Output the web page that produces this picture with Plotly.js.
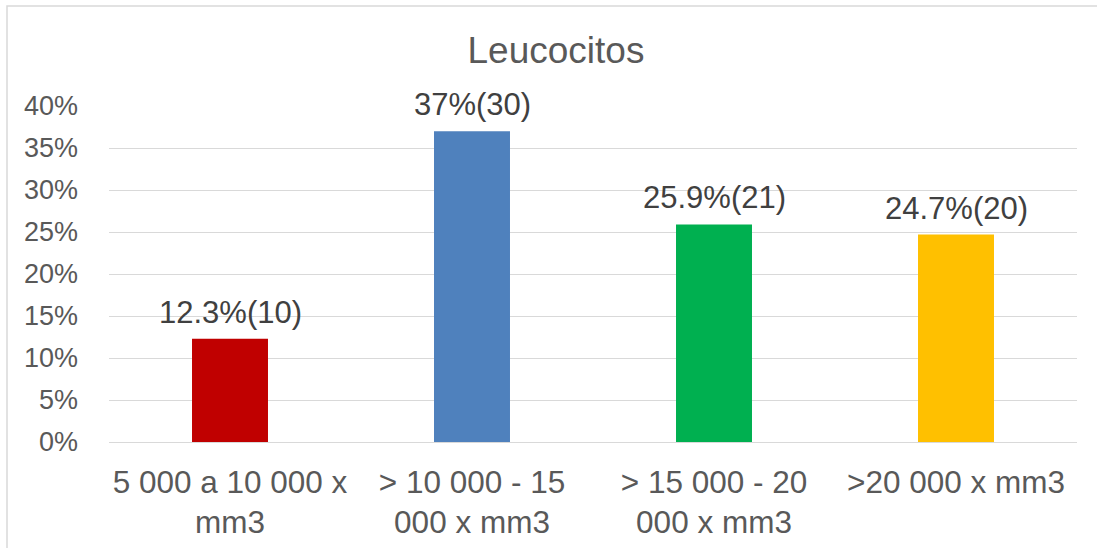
<!DOCTYPE html>
<html>
<head>
<meta charset="utf-8">
<script src="https://cdn.plot.ly/plotly-3.0.1.min.js"></script>
<style>
  html, body { margin: 0; padding: 0; background: #ffffff; }
  #chart { width: 1097px; height: 548px; }
</style>
</head>
<body>
<div id="chart"></div>
<script>
// Leucocyte count ranges and share of patients
const categories = [
  '5 000 a 10 000 x<br>mm3',
  '> 10 000 - 15<br>000 x mm3',
  '> 15 000 - 20<br>000 x mm3',
  '>20 000 x mm3'
];
const percentages = [12.3, 37, 25.9, 24.7];
const counts = [10, 30, 21, 20];
const barColors = ['#C00000', '#4F81BD', '#00B050', '#FFC000'];
const yTickValues = [0, 5, 10, 15, 20, 25, 30, 35, 40];

const labelTexts = percentages.map((p, i) => p + '%(' + counts[i] + ')');

const fontFamily = '"Liberation Sans", Arial, sans-serif';

const trace = {
  type: 'bar',
  x: categories,
  y: percentages,
  marker: { color: barColors },
  hoverinfo: 'skip'
};

const annotations = categories.map((c, i) => ({
  x: c,
  y: percentages[i],
  xref: 'x',
  yref: 'y',
  text: labelTexts[i],
  showarrow: false,
  yanchor: 'bottom',
  yshift: 7,
  font: { family: fontFamily, size: 31, color: '#404040' }
}));

// Plot area: x 109..1077, y 106..442
const L = 109, R = 20, T = 106, B = 106;
const pw = 1097 - L - R, ph = 548 - T - B;

const layout = {
  width: 1097,
  height: 548,
  margin: { l: L, r: R, t: T, b: B, pad: 0 },
  paper_bgcolor: '#ffffff',
  plot_bgcolor: '#ffffff',
  showlegend: false,
  bargap: 0.686,
  title: {
    text: 'Leucocitos',
    font: { family: fontFamily, size: 37, color: '#595959' },
    xref: 'container',
    yref: 'container',
    x: 556 / 1097,
    xanchor: 'center',
    y: 1 - 50 / 548,
    yanchor: 'middle'
  },
  xaxis: {
    type: 'category',
    showgrid: false,
    zeroline: false,
    showline: false,
    ticks: '',
    ticklabelstandoff: 18,
    tickfont: { family: fontFamily, size: 31.5, color: '#595959' },
    fixedrange: true
  },
  yaxis: {
    range: [0, 40],
    tickvals: yTickValues,
    ticktext: yTickValues.map(v => v + '%'),
    showgrid: true,
    gridcolor: '#d9d9d9',
    gridwidth: 1,
    zeroline: true,
    zerolinecolor: '#d9d9d9',
    zerolinewidth: 1,
    showline: false,
    ticks: '',
    ticklabelstandoff: 30,
    tickfont: { family: fontFamily, size: 27, color: '#595959' },
    fixedrange: true
  },
  annotations: annotations,
  shapes: [{
    type: 'rect',
    xref: 'paper',
    yref: 'paper',
    x0: (7 - L) / pw,
    x1: (1110 - L) / pw,
    y0: -(560 - (548 - B)) / ph,
    y1: 1 + (T - 6) / ph,
    line: { color: '#d9d9d9', width: 1.5 },
    fillcolor: 'rgba(0,0,0,0)',
    layer: 'below'
  }]
};

Plotly.newPlot('chart', [trace], layout, { displayModeBar: false, staticPlot: true });
</script>
</body>
</html>
